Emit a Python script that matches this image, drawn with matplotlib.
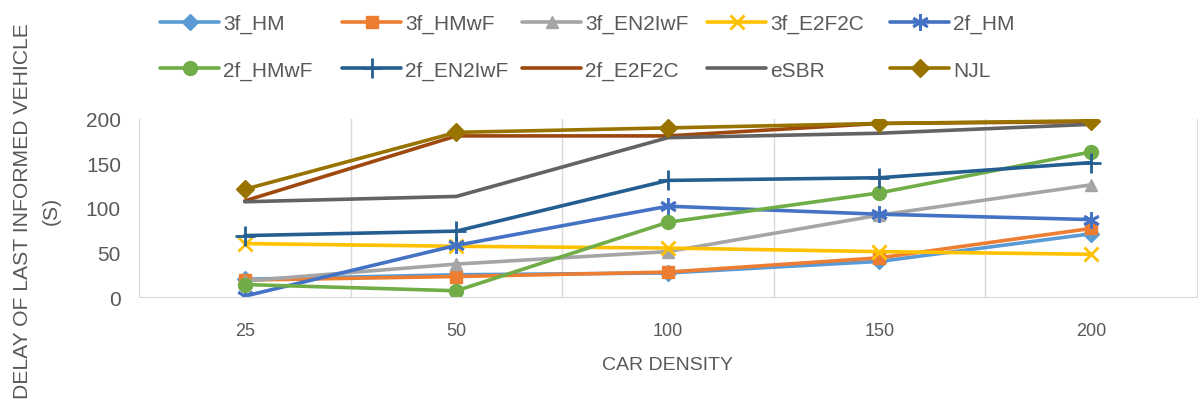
import matplotlib.pyplot as plt

# Data
densities = ["25", "50", "100", "150", "200"]

f3_hm = [20, 25, 27, 40, 71]
f3_hmwf = [19, 23, 28, 44, 77]
f3_en2iwf = [18, 37, 51, 92, 126]
f3_e2f2c = [60, 57, 55, 51, 48]
f2_hm = [1, 58, 102, 93, 87]
f2_hmwf = [14, 7, 84, 117, 163]
f2_en2iwf = [69, 74, 131, 134, 151]
f2_e2f2c = [108, 181, 181, 195, 197]
esbr = [107, 113, 179, 184, 194]
njl = [121, 185, 190, 195, 198]

series = [
    ("3f_HM", f3_hm, "#5B9BD5", "D", 8),
    ("3f_HMwF", f3_hmwf, "#ED7D31", "s", 9),
    ("3f_EN2IwF", f3_en2iwf, "#A5A5A5", "^", 9),
    ("3f_E2F2C", f3_e2f2c, "#FFC000", "x", 10),
    ("2f_HM", f2_hm, "#4472C4", (6, 2, 0), 12),
    ("2f_HMwF", f2_hmwf, "#70AD47", "o", 10),
    ("2f_EN2IwF", f2_en2iwf, "#255E91", "+", 14),
    ("2f_E2F2C", f2_e2f2c, "#9E480E", None, 0),
    ("eSBR", esbr, "#636363", None, 0),
    ("NJL", njl, "#997300", "D", 9),
]

plt.rcParams["font.family"] = ["Liberation Sans", "DejaVu Sans"]

fig = plt.figure(figsize=(11.98, 4.02), dpi=100)
ax = fig.add_axes([0.116, 0.2587, 0.883, 0.4428])

x = list(range(len(densities)))
handles = []
for name, vals, color, marker, ms in series:
    h, = ax.plot(x, vals, color=color, linewidth=2.6, marker=marker, markersize=ms,
                 markeredgewidth=2 if marker in ("x", "+", (6, 2, 0)) else 1,
                 markeredgecolor=color, markerfacecolor=color, label=name,
                 solid_capstyle="round")
    handles.append(h)

ax.set_xlim(-0.5, len(densities) - 0.5)
ax.set_ylim(0, 200)
ax.set_yticks([0, 50, 100, 150, 200])
ax.set_xticks(x)
ax.set_xticklabels(densities)

# vertical gridlines between categories
ax.set_xticks([i + 0.5 for i in range(len(densities) - 1)], minor=True)
ax.grid(axis="x", which="minor", color="#D9D9D9", linewidth=1)
ax.tick_params(which="both", length=0)
ax.tick_params(axis="y", labelsize=15, colors="#595959", pad=13)
ax.tick_params(axis="x", labelsize=13, colors="#595959", pad=18)

ax.spines["top"].set_visible(False)
ax.spines["left"].set_color("#D9D9D9")
ax.spines["bottom"].set_color("#D9D9D9")
ax.spines["right"].set_color("#D9D9D9")

ax.set_xlabel("CAR DENSITY", fontsize=14, color="#595959", labelpad=12)
fig.text(0.031, 0.475, "DELAY OF LAST INFORMED VEHICLE\n(S)", rotation=90,
         ha="center", va="center", fontsize=15.2, color="#595959",
         linespacing=1.65)

# legend: 5 columns of 2 entries, placed like the original
col_x = [150, 332, 512, 697, 880]
for c in range(5):
    pair = [c, c + 5]
    fig.legend([handles[i] for i in pair], [series[i][0] for i in pair],
               loc="upper left", bbox_to_anchor=(col_x[c] / 1198, 0.988),
               frameon=False, fontsize=15, handlelength=2.8, borderpad=0,
               handletextpad=0.2, labelspacing=1.3, labelcolor="#595959")

fig.savefig("out.png", dpi=100)
